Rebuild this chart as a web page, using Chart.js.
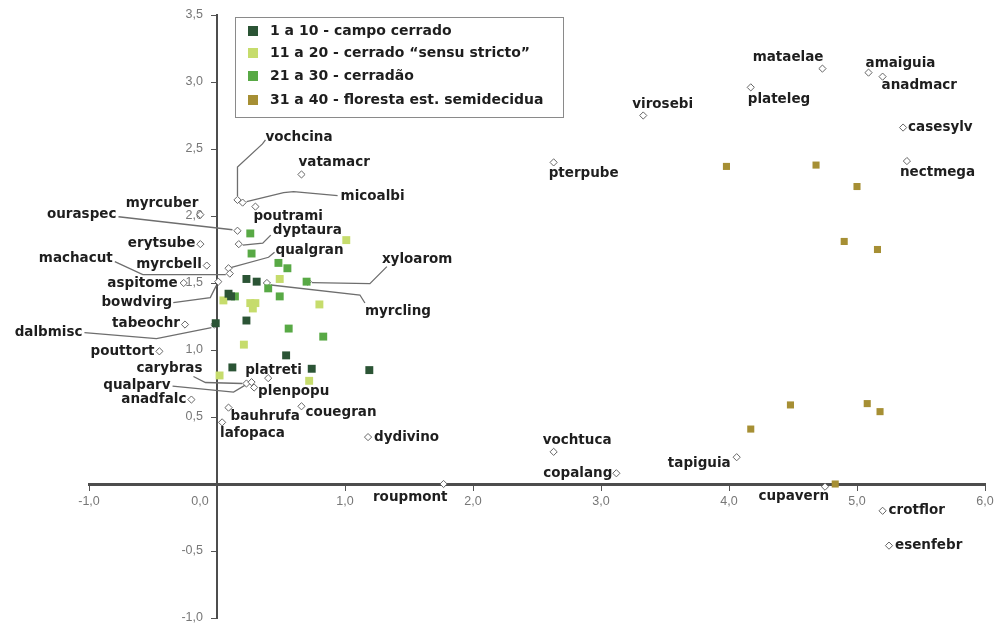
<!DOCTYPE html>
<html><head><meta charset="utf-8">
<script src="https://cdn.jsdelivr.net/npm/chart.js@4.4.1/dist/chart.umd.min.js"></script>
<style>html,body{margin:0;padding:0;background:#fff}canvas{display:block}</style>
</head><body>
<canvas id="c" width="995" height="627"></canvas>
<script>
// ---------- DATA ----------
const groupNames = ['1 a 10 - campo cerrado', '11 a 20 - cerrado \u201csensu stricto\u201d', '21 a 30 - cerrad\u00e3o', '31 a 40 - floresta est. semidecidua'];
const campoX = [0.23, 0.31, 0.09, 0.11, -0.01, 0.23, 0.54, 0.12, 0.74, 1.19];
const campoY = [1.53, 1.51, 1.42, 1.40, 1.20, 1.22, 0.96, 0.87, 0.86, 0.85];
const sensuX = [1.01, 0.49, 0.05, 0.26, 0.30, 0.28, 0.80, 0.21, 0.02, 0.72];
const sensuY = [1.82, 1.53, 1.37, 1.35, 1.35, 1.31, 1.34, 1.04, 0.81, 0.77];
const cerradaoX = [0.26, 0.27, 0.48, 0.55, 0.70, 0.40, 0.14, 0.49, 0.56, 0.83];
const cerradaoY = [1.87, 1.72, 1.65, 1.61, 1.51, 1.46, 1.40, 1.40, 1.16, 1.10];
const florestaX = [3.98, 4.68, 5.00, 4.90, 5.16, 4.48, 5.08, 5.18, 4.17, 4.83];
const florestaY = [2.37, 2.38, 2.22, 1.81, 1.75, 0.59, 0.60, 0.54, 0.41, 0.00];

const species = ['vochcina','micoalbi','vatamacr','poutrami','myrcuber','ouraspec','dyptaura','erytsube','qualgran','myrcbell',
  'machacut','aspitome','bowdvirg','xyloarom','myrcling','tabeochr','dalbmisc','pouttort','carybras','platreti',
  'qualparv','plenpopu','anadfalc','bauhrufa','couegran','lafopaca','dydivino','roupmont','vochtuca','copalang',
  'tapiguia','cupavern','crotflor','esenfebr','mataelae','amaiguia','anadmacr','plateleg','virosebi','casesylv',
  'pterpube','nectmega'];
const speciesX = [0.16, 0.20, 0.66, 0.30, -0.13, 0.16, 0.17, -0.13, 0.09, -0.08,
  0.10, -0.26, 0.01, 0.71, 0.39, -0.25, -0.02, -0.45, 0.23, 0.40,
  0.27, 0.29, -0.20, 0.09, 0.66, 0.04, 1.18, 1.77, 2.63, 3.12,
  4.06, 4.75, 5.20, 5.25, 4.73, 5.09, 5.20, 4.17, 3.33, 5.36,
  2.63, 5.39];
const speciesY = [2.12, 2.10, 2.31, 2.07, 2.01, 1.89, 1.79, 1.79, 1.61, 1.63,
  1.57, 1.50, 1.51, 1.51, 1.50, 1.19, 1.19, 0.99, 0.75, 0.79,
  0.76, 0.72, 0.63, 0.57, 0.58, 0.46, 0.35, 0.00, 0.24, 0.08,
  0.20, -0.02, -0.20, -0.46, 3.10, 3.07, 3.04, 2.96, 2.75, 2.66,
  2.40, 2.41];
const xTicks = [-1, 0, 1, 2, 3, 4, 5, 6];
const yTicks = [-1, -0.5, 0, 0.5, 1, 1.5, 2, 2.5, 3, 3.5];

// ---------- LABEL LAYOUT (pixel offsets from the marker) ----------
const labelLayout = {
  vochcina:{a:'left',dx:28,dy:-62,l:[[0,-4],[0,-33],[25,-56],[28,-60]]},
  micoalbi:{a:'left',dx:98,dy:-6,l:[[4,-1],[41,-10],[51,-11],[95,-7]]},
  vatamacr:{a:'left',dx:-3,dy:-12},
  poutrami:{a:'left',dx:-2,dy:10},
  myrcuber:{a:'right',dx:-2,dy:-11},
  ouraspec:{a:'right',dx:-121,dy:-16,l:[[-119,-14],[-5,-1]]},
  dyptaura:{a:'left',dx:34,dy:-14,l:[[4,1],[24,-1],[32,-9]]},
  erytsube:{a:'right',dx:-5,dy:-1},
  qualgran:{a:'left',dx:47,dy:-18,l:[[3,-1],[40,-11],[46,-16]]},
  myrcbell:{a:'right',dx:-5,dy:-1},
  machacut:{a:'right',dx:-117,dy:-15,l:[[-115,-12],[-87,1],[-4,1]]},
  aspitome:{a:'right',dx:-6,dy:0},
  bowdvirg:{a:'right',dx:-46,dy:21,l:[[-45,21],[-8,16],[-2,4]]},
  xyloarom:{a:'left',dx:74,dy:-22,l:[[4,1],[62,2],[79,-15]]},
  myrcling:{a:'left',dx:98,dy:28,l:[[4,2],[93,12],[98,20]]},
  tabeochr:{a:'right',dx:-5,dy:-1},
  dalbmisc:{a:'right',dx:-132,dy:8,l:[[-130,8],[-58,14],[-3,3]]},
  pouttort:{a:'right',dx:-5,dy:0},
  carybras:{a:'right',dx:-44,dy:-15,l:[[-53,-7],[-41,-1],[-4,0]]},
  platreti:{a:'left',dx:-23,dy:-8},
  qualparv:{a:'right',dx:-81,dy:3,l:[[-79,4],[-18,10],[-3,1]]},
  plenpopu:{a:'left',dx:4,dy:4},
  anadfalc:{a:'right',dx:-5,dy:0},
  bauhrufa:{a:'left',dx:2,dy:9},
  couegran:{a:'left',dx:4,dy:6},
  lafopaca:{a:'left',dx:-2,dy:11},
  dydivino:{a:'left',dx:6,dy:0},
  roupmont:{a:'right',dx:4,dy:13},
  vochtuca:{a:'left',dx:-11,dy:-11},
  copalang:{a:'right',dx:-4,dy:0},
  tapiguia:{a:'right',dx:-6,dy:6},
  cupavern:{a:'right',dx:4,dy:10},
  crotflor:{a:'left',dx:6,dy:0},
  esenfebr:{a:'left',dx:6,dy:0},
  mataelae:{a:'right',dx:1,dy:-11},
  amaiguia:{a:'left',dx:-3,dy:-9},
  anadmacr:{a:'left',dx:-1,dy:9},
  plateleg:{a:'left',dx:-3,dy:12},
  virosebi:{a:'left',dx:-11,dy:-11},
  casesylv:{a:'left',dx:5,dy:0},
  pterpube:{a:'left',dx:-5,dy:11},
  nectmega:{a:'left',dx:-7,dy:11}
};

const colors = ['#2b5435', '#c6dc6c', '#58a945', '#a68f34'];
const labelFont = 'bold 13.5px "DejaVu Sans", sans-serif';
const tickFamily = '"Liberation Sans Narrow", "Liberation Sans", Arial, sans-serif';
const fmt = v => (Math.round(v * 10) / 10).toFixed(1).replace('.', ',');
const zip = (xs, ys) => xs.map((x, i) => ({x, y: ys[i]}));

const annot = {
  id: 'annot',
  beforeDatasetsDraw(chart) {
    const ctx = chart.ctx, xs = chart.scales.x, ys = chart.scales.y;
    const x0 = xs.getPixelForValue(0), y0 = ys.getPixelForValue(0);
    ctx.save();
    // axis tick labels (taken from the scales' ticks)
    ctx.font = '12.5px ' + tickFamily;
    ctx.fillStyle = '#777';
    ctx.textBaseline = 'middle';
    ctx.textAlign = 'center';
    xs.ticks.forEach(t => {
      const px = xs.getPixelForValue(t.value);
      ctx.fillText(fmt(t.value), t.value === 0 ? px - 17 : px, y0 + 18);
    });
    ctx.textAlign = 'right';
    ys.ticks.forEach(t => {
      if (t.value === 0) return;
      ctx.fillText(fmt(t.value), x0 - 14, ys.getPixelForValue(t.value));
    });
    // leader lines
    ctx.strokeStyle = '#6e6e6e';
    ctx.lineWidth = 1.3;
    species.forEach((n, i) => {
      const L = labelLayout[n];
      if (!L || !L.l) return;
      const px = xs.getPixelForValue(speciesX[i]), py = ys.getPixelForValue(speciesY[i]);
      ctx.beginPath();
      L.l.forEach((p, k) => { k ? ctx.lineTo(px + p[0], py + p[1]) : ctx.moveTo(px + p[0], py + p[1]); });
      ctx.stroke();
    });
    ctx.restore();
  },
  afterDatasetsDraw(chart) {
    const ctx = chart.ctx, xs = chart.scales.x, ys = chart.scales.y;
    ctx.save();
    // species labels
    ctx.font = labelFont;
    ctx.fillStyle = '#1e1e1e';
    ctx.textBaseline = 'middle';
    species.forEach((n, i) => {
      const L = labelLayout[n];
      const px = xs.getPixelForValue(speciesX[i]), py = ys.getPixelForValue(speciesY[i]);
      ctx.textAlign = L.a;
      ctx.fillText(n, px + L.dx, py + L.dy);
    });
    // legend box
    const bx = 235.5, by = 17.5, bw = 328, bh = 100;
    ctx.fillStyle = '#fff';
    ctx.fillRect(bx, by, bw, bh);
    ctx.strokeStyle = '#8a8a8a';
    ctx.lineWidth = 1;
    ctx.strokeRect(bx, by, bw, bh);
    const rows = [31, 53, 76, 100];
    ctx.font = 'bold 14px "DejaVu Sans", sans-serif';
    ctx.textAlign = 'left';
    groupNames.forEach((g, i) => {
      ctx.fillStyle = colors[i];
      ctx.fillRect(248, rows[i] - 5, 10, 10);
      ctx.fillStyle = '#1e1e1e';
      ctx.fillText(g, 270, rows[i]);
    });
    ctx.restore();
  }
};

new Chart(document.getElementById('c'), {
  type: 'scatter',
  data: {
    datasets: [
      {label: groupNames[0], data: zip(campoX, campoY), pointStyle: 'rect', radius: 5.6, backgroundColor: colors[0], borderWidth: 0},
      {label: groupNames[1], data: zip(sensuX, sensuY), pointStyle: 'rect', radius: 5.6, backgroundColor: colors[1], borderWidth: 0},
      {label: groupNames[2], data: zip(cerradaoX, cerradaoY), pointStyle: 'rect', radius: 5.6, backgroundColor: colors[2], borderWidth: 0},
      {label: groupNames[3], data: zip(florestaX, florestaY), pointStyle: 'rect', radius: 5, backgroundColor: colors[3], borderWidth: 0},
      {label: 'esp\u00e9cies', data: zip(speciesX, speciesY), pointStyle: 'rectRot', radius: 3.6, backgroundColor: '#ffffff', borderColor: '#666', borderWidth: 1}
    ]
  },
  options: {
    responsive: false,
    animation: false,
    events: [],
    layout: {padding: {left: 89, right: 10, top: 15, bottom: 9}},
    plugins: {legend: {display: false}, tooltip: {enabled: false}},
    scales: {
      x: {
        type: 'linear', min: -1, max: 6, position: {y: 0},
        afterBuildTicks: s => { s.ticks = xTicks.map(v => ({value: v})); },
        ticks: {display: false},
        grid: {drawOnChartArea: false, drawTicks: true, tickLength: 5, color: '#555'},
        border: {color: '#4d4d4d', width: 3}
      },
      y: {
        type: 'linear', min: -1, max: 3.5, position: {x: 0},
        afterBuildTicks: s => { s.ticks = yTicks.map(v => ({value: v})); },
        ticks: {display: false},
        grid: {drawOnChartArea: false, drawTicks: true, tickLength: 5, color: '#555'},
        border: {color: '#4d4d4d', width: 2}
      }
    }
  },
  plugins: [annot]
});
</script>
</body></html>
